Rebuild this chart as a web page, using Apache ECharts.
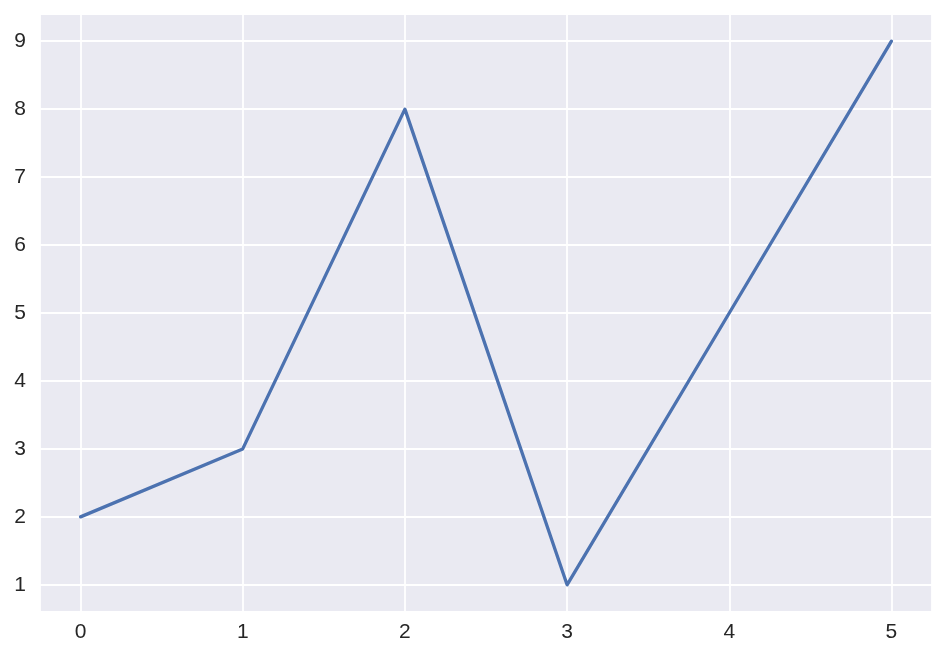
<!DOCTYPE html>
<html>
<head>
<meta charset="utf-8">
<script src="https://cdn.jsdelivr.net/npm/echarts@6/dist/echarts.min.js"></script>
<style>
html, body { margin: 0; padding: 0; background: #ffffff; }
#chart { width: 946px; height: 659px; }
</style>
</head>
<body>
<div id="chart"></div>
<script>
var xValues = [0, 1, 2, 3, 4, 5];
var yValues = [2, 3, 8, 1, 5, 9];

var seriesData = xValues.map(function (x, i) { return [x, yValues[i]]; });

var chart = echarts.init(document.getElementById('chart'), null, { renderer: 'canvas' });
var textColor = '#262626';
var fontFamily = 'Liberation Sans, Arial, sans-serif';

chart.setOption({
  animation: false,
  backgroundColor: '#ffffff',
  grid: {
    left: 40, right: 14, top: 14, bottom: 47,
    show: true, backgroundColor: '#EAEAF2', borderWidth: 0
  },
  xAxis: {
    type: 'value',
    min: -0.25, max: 5.25,
    minInterval: 1, maxInterval: 1,
    axisLine: { show: false },
    axisTick: { show: false },
    axisLabel: {
      color: textColor, fontSize: 21, fontFamily: fontFamily, margin: 10,
      showMinLabel: false, showMaxLabel: false
    },
    splitLine: { show: true, lineStyle: { color: '#ffffff', width: 1.8 } }
  },
  yAxis: {
    type: 'value',
    min: 0.6, max: 9.4,
    minInterval: 1, maxInterval: 1,
    axisLine: { show: false },
    axisTick: { show: false },
    axisLabel: {
      color: textColor, fontSize: 21, fontFamily: fontFamily, margin: 14,
      showMinLabel: false, showMaxLabel: false
    },
    splitLine: { show: true, lineStyle: { color: '#ffffff', width: 1.8 } }
  },
  series: [{
    type: 'line',
    data: seriesData,
    symbol: 'none',
    lineStyle: { color: '#4C72B0', width: 3.3, cap: 'round', join: 'round' },
    z: 3
  }]
});
</script>
</body>
</html>
